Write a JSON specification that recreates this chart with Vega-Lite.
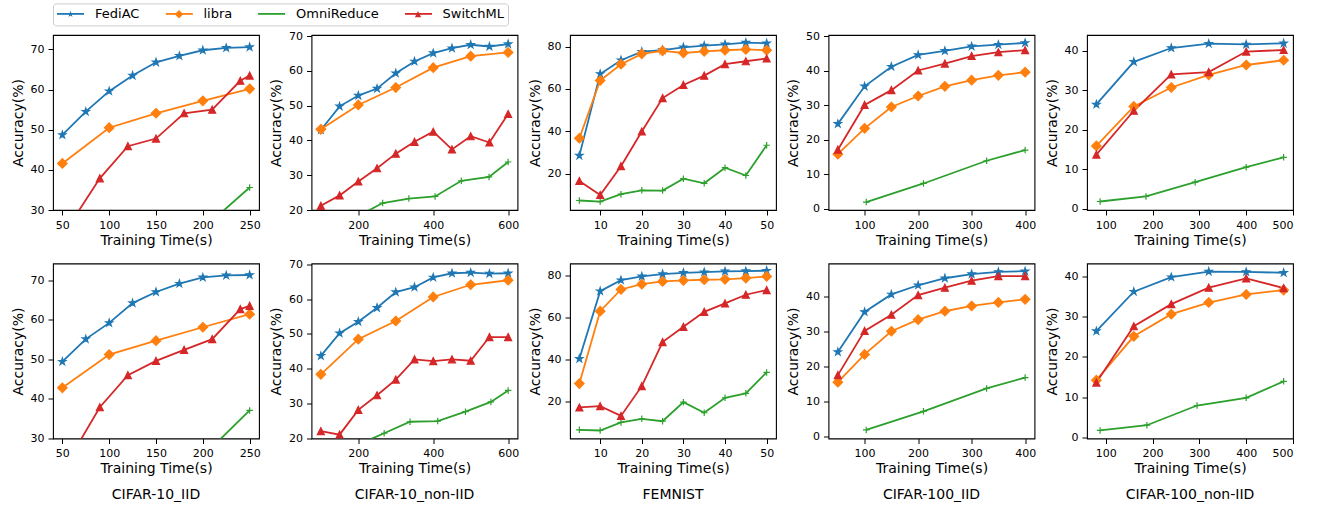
{
"$schema": "https://vega.github.io/schema/vega-lite/v6.json",
"background": "white",
"padding": {"left": 10, "top": 2, "right": 5, "bottom": 5},
"autosize": {"type": "pad"},
"data": {"values": [
{"p":"11","m":"FediAC","t":50,"y":48.7},{"p":"11","m":"FediAC","t":75,"y":54.5},{"p":"11","m":"FediAC","t":100,"y":59.6},{"p":"11","m":"FediAC","t":125,"y":63.5},{"p":"11","m":"FediAC","t":150,"y":66.8},{"p":"11","m":"FediAC","t":175,"y":68.4},{"p":"11","m":"FediAC","t":200,"y":69.8},{"p":"11","m":"FediAC","t":225,"y":70.4},{"p":"11","m":"FediAC","t":250,"y":70.6},
{"p":"11","m":"libra","t":50,"y":41.6},{"p":"11","m":"libra","t":100,"y":50.5},{"p":"11","m":"libra","t":150,"y":54.1},{"p":"11","m":"libra","t":200,"y":57.2},{"p":"11","m":"libra","t":250,"y":60.2},
{"p":"11","m":"OmniReduce","t":200,"y":25.3},{"p":"11","m":"OmniReduce","t":250,"y":35.6},
{"p":"11","m":"SwitchML","t":60,"y":27.1},{"p":"11","m":"SwitchML","t":90,"y":37.9},{"p":"11","m":"SwitchML","t":120,"y":45.9},{"p":"11","m":"SwitchML","t":150,"y":47.8},{"p":"11","m":"SwitchML","t":180,"y":54.1},{"p":"11","m":"SwitchML","t":210,"y":55.0},{"p":"11","m":"SwitchML","t":240,"y":62.2},{"p":"11","m":"SwitchML","t":250,"y":63.5},

{"p":"12","m":"FediAC","t":100,"y":43.0},{"p":"12","m":"FediAC","t":150,"y":49.8},{"p":"12","m":"FediAC","t":200,"y":52.9},{"p":"12","m":"FediAC","t":250,"y":54.9},{"p":"12","m":"FediAC","t":300,"y":59.3},{"p":"12","m":"FediAC","t":350,"y":62.7},{"p":"12","m":"FediAC","t":400,"y":65.1},{"p":"12","m":"FediAC","t":450,"y":66.5},{"p":"12","m":"FediAC","t":500,"y":67.5},{"p":"12","m":"FediAC","t":550,"y":67.0},{"p":"12","m":"FediAC","t":600,"y":67.7},
{"p":"12","m":"libra","t":100,"y":43.2},{"p":"12","m":"libra","t":200,"y":50.2},{"p":"12","m":"libra","t":300,"y":55.2},{"p":"12","m":"libra","t":400,"y":60.9},{"p":"12","m":"libra","t":500,"y":64.2},{"p":"12","m":"libra","t":600,"y":65.3},
{"p":"12","m":"OmniReduce","t":195,"y":18.0},{"p":"12","m":"OmniReduce","t":265,"y":22.0},{"p":"12","m":"OmniReduce","t":335,"y":23.3},{"p":"12","m":"OmniReduce","t":405,"y":23.9},{"p":"12","m":"OmniReduce","t":475,"y":28.4},{"p":"12","m":"OmniReduce","t":549,"y":29.5},{"p":"12","m":"OmniReduce","t":600,"y":33.8},
{"p":"12","m":"SwitchML","t":100,"y":21.2},{"p":"12","m":"SwitchML","t":150,"y":24.2},{"p":"12","m":"SwitchML","t":200,"y":28.2},{"p":"12","m":"SwitchML","t":250,"y":32.0},{"p":"12","m":"SwitchML","t":300,"y":36.2},{"p":"12","m":"SwitchML","t":350,"y":39.6},{"p":"12","m":"SwitchML","t":400,"y":42.5},{"p":"12","m":"SwitchML","t":450,"y":37.4},{"p":"12","m":"SwitchML","t":500,"y":41.2},{"p":"12","m":"SwitchML","t":550,"y":39.4},{"p":"12","m":"SwitchML","t":600,"y":47.6},

{"p":"13","m":"FediAC","t":5,"y":28.5},{"p":"13","m":"FediAC","t":10,"y":67.1},{"p":"13","m":"FediAC","t":15,"y":73.6},{"p":"13","m":"FediAC","t":20,"y":77.6},{"p":"13","m":"FediAC","t":25,"y":78.4},{"p":"13","m":"FediAC","t":30,"y":79.7},{"p":"13","m":"FediAC","t":35,"y":80.5},{"p":"13","m":"FediAC","t":40,"y":81.1},{"p":"13","m":"FediAC","t":45,"y":81.9},{"p":"13","m":"FediAC","t":50,"y":81.6},
{"p":"13","m":"libra","t":5,"y":36.7},{"p":"13","m":"libra","t":10,"y":64.0},{"p":"13","m":"libra","t":15,"y":71.7},{"p":"13","m":"libra","t":20,"y":76.6},{"p":"13","m":"libra","t":25,"y":78.0},{"p":"13","m":"libra","t":30,"y":77.0},{"p":"13","m":"libra","t":35,"y":77.8},{"p":"13","m":"libra","t":40,"y":78.3},{"p":"13","m":"libra","t":45,"y":78.7},{"p":"13","m":"libra","t":50,"y":78.3},
{"p":"13","m":"OmniReduce","t":5,"y":7.3},{"p":"13","m":"OmniReduce","t":10,"y":6.8},{"p":"13","m":"OmniReduce","t":15,"y":10.3},{"p":"13","m":"OmniReduce","t":20,"y":12.1},{"p":"13","m":"OmniReduce","t":25,"y":12.0},{"p":"13","m":"OmniReduce","t":30,"y":17.6},{"p":"13","m":"OmniReduce","t":35,"y":15.4},{"p":"13","m":"OmniReduce","t":40,"y":22.8},{"p":"13","m":"OmniReduce","t":45,"y":19.1},{"p":"13","m":"OmniReduce","t":50,"y":33.4},
{"p":"13","m":"SwitchML","t":5,"y":16.5},{"p":"13","m":"SwitchML","t":10,"y":9.9},{"p":"13","m":"SwitchML","t":15,"y":23.5},{"p":"13","m":"SwitchML","t":20,"y":39.9},{"p":"13","m":"SwitchML","t":25,"y":55.7},{"p":"13","m":"SwitchML","t":30,"y":61.9},{"p":"13","m":"SwitchML","t":35,"y":66.3},{"p":"13","m":"SwitchML","t":40,"y":71.7},{"p":"13","m":"SwitchML","t":45,"y":73.1},{"p":"13","m":"SwitchML","t":50,"y":74.4},

{"p":"14","m":"FediAC","t":50,"y":24.6},{"p":"14","m":"FediAC","t":100,"y":35.5},{"p":"14","m":"FediAC","t":150,"y":41.2},{"p":"14","m":"FediAC","t":200,"y":44.6},{"p":"14","m":"FediAC","t":250,"y":45.8},{"p":"14","m":"FediAC","t":300,"y":47.1},{"p":"14","m":"FediAC","t":350,"y":47.6},{"p":"14","m":"FediAC","t":400,"y":48.1},
{"p":"14","m":"libra","t":50,"y":15.8},{"p":"14","m":"libra","t":100,"y":23.3},{"p":"14","m":"libra","t":150,"y":29.5},{"p":"14","m":"libra","t":200,"y":32.7},{"p":"14","m":"libra","t":250,"y":35.5},{"p":"14","m":"libra","t":300,"y":37.3},{"p":"14","m":"libra","t":350,"y":38.7},{"p":"14","m":"libra","t":400,"y":39.6},
{"p":"14","m":"OmniReduce","t":103,"y":1.9},{"p":"14","m":"OmniReduce","t":210,"y":7.3},{"p":"14","m":"OmniReduce","t":328,"y":13.9},{"p":"14","m":"OmniReduce","t":400,"y":17.0},
{"p":"14","m":"SwitchML","t":50,"y":17.1},{"p":"14","m":"SwitchML","t":100,"y":30.1},{"p":"14","m":"SwitchML","t":150,"y":34.4},{"p":"14","m":"SwitchML","t":200,"y":40.1},{"p":"14","m":"SwitchML","t":250,"y":42.1},{"p":"14","m":"SwitchML","t":300,"y":44.3},{"p":"14","m":"SwitchML","t":350,"y":45.4},{"p":"14","m":"SwitchML","t":400,"y":46.0},

{"p":"15","m":"FediAC","t":80,"y":26.4},{"p":"15","m":"FediAC","t":160,"y":37.2},{"p":"15","m":"FediAC","t":240,"y":40.7},{"p":"15","m":"FediAC","t":320,"y":41.8},{"p":"15","m":"FediAC","t":400,"y":41.6},{"p":"15","m":"FediAC","t":480,"y":41.9},
{"p":"15","m":"libra","t":80,"y":15.9},{"p":"15","m":"libra","t":160,"y":25.9},{"p":"15","m":"libra","t":240,"y":30.7},{"p":"15","m":"libra","t":320,"y":33.9},{"p":"15","m":"libra","t":400,"y":36.4},{"p":"15","m":"libra","t":480,"y":37.6},
{"p":"15","m":"OmniReduce","t":88,"y":1.8},{"p":"15","m":"OmniReduce","t":186,"y":3.1},{"p":"15","m":"OmniReduce","t":291,"y":6.7},{"p":"15","m":"OmniReduce","t":400,"y":10.5},{"p":"15","m":"OmniReduce","t":480,"y":13.0},
{"p":"15","m":"SwitchML","t":80,"y":13.7},{"p":"15","m":"SwitchML","t":160,"y":24.8},{"p":"15","m":"SwitchML","t":240,"y":34.0},{"p":"15","m":"SwitchML","t":320,"y":34.6},{"p":"15","m":"SwitchML","t":400,"y":39.8},{"p":"15","m":"SwitchML","t":480,"y":40.2},

{"p":"21","m":"FediAC","t":50,"y":49.4},{"p":"21","m":"FediAC","t":75,"y":55.1},{"p":"21","m":"FediAC","t":100,"y":59.2},{"p":"21","m":"FediAC","t":125,"y":64.2},{"p":"21","m":"FediAC","t":150,"y":67.0},{"p":"21","m":"FediAC","t":175,"y":69.1},{"p":"21","m":"FediAC","t":200,"y":70.7},{"p":"21","m":"FediAC","t":225,"y":71.2},{"p":"21","m":"FediAC","t":250,"y":71.3},
{"p":"21","m":"libra","t":50,"y":42.8},{"p":"21","m":"libra","t":100,"y":51.2},{"p":"21","m":"libra","t":150,"y":54.7},{"p":"21","m":"libra","t":200,"y":58.1},{"p":"21","m":"libra","t":250,"y":61.4},
{"p":"21","m":"OmniReduce","t":200,"y":25.5},{"p":"21","m":"OmniReduce","t":250,"y":37.1},
{"p":"21","m":"SwitchML","t":60,"y":25.8},{"p":"21","m":"SwitchML","t":90,"y":37.9},{"p":"21","m":"SwitchML","t":120,"y":46.0},{"p":"21","m":"SwitchML","t":150,"y":49.6},{"p":"21","m":"SwitchML","t":180,"y":52.4},{"p":"21","m":"SwitchML","t":210,"y":55.1},{"p":"21","m":"SwitchML","t":240,"y":62.7},{"p":"21","m":"SwitchML","t":250,"y":63.5},

{"p":"22","m":"FediAC","t":100,"y":43.7},{"p":"22","m":"FediAC","t":150,"y":50.2},{"p":"22","m":"FediAC","t":200,"y":53.5},{"p":"22","m":"FediAC","t":250,"y":57.5},{"p":"22","m":"FediAC","t":300,"y":62.0},{"p":"22","m":"FediAC","t":350,"y":63.4},{"p":"22","m":"FediAC","t":400,"y":66.2},{"p":"22","m":"FediAC","t":450,"y":67.4},{"p":"22","m":"FediAC","t":500,"y":67.6},{"p":"22","m":"FediAC","t":550,"y":67.3},{"p":"22","m":"FediAC","t":600,"y":67.4},
{"p":"22","m":"libra","t":100,"y":38.4},{"p":"22","m":"libra","t":200,"y":48.5},{"p":"22","m":"libra","t":300,"y":53.7},{"p":"22","m":"libra","t":400,"y":60.6},{"p":"22","m":"libra","t":500,"y":64.1},{"p":"22","m":"libra","t":600,"y":65.4},
{"p":"22","m":"OmniReduce","t":200,"y":18.3},{"p":"22","m":"OmniReduce","t":269,"y":21.5},{"p":"22","m":"OmniReduce","t":338,"y":24.8},{"p":"22","m":"OmniReduce","t":412,"y":25.0},{"p":"22","m":"OmniReduce","t":486,"y":27.7},{"p":"22","m":"OmniReduce","t":554,"y":30.5},{"p":"22","m":"OmniReduce","t":600,"y":33.8},
{"p":"22","m":"SwitchML","t":100,"y":22.1},{"p":"22","m":"SwitchML","t":150,"y":21.1},{"p":"22","m":"SwitchML","t":200,"y":28.2},{"p":"22","m":"SwitchML","t":250,"y":32.4},{"p":"22","m":"SwitchML","t":300,"y":36.9},{"p":"22","m":"SwitchML","t":350,"y":42.7},{"p":"22","m":"SwitchML","t":400,"y":42.2},{"p":"22","m":"SwitchML","t":450,"y":42.7},{"p":"22","m":"SwitchML","t":500,"y":42.3},{"p":"22","m":"SwitchML","t":550,"y":49.1},{"p":"22","m":"SwitchML","t":600,"y":49.1},

{"p":"23","m":"FediAC","t":5,"y":40.4},{"p":"23","m":"FediAC","t":10,"y":72.4},{"p":"23","m":"FediAC","t":15,"y":77.6},{"p":"23","m":"FediAC","t":20,"y":79.4},{"p":"23","m":"FediAC","t":25,"y":80.5},{"p":"23","m":"FediAC","t":30,"y":81.1},{"p":"23","m":"FediAC","t":35,"y":81.4},{"p":"23","m":"FediAC","t":40,"y":81.8},{"p":"23","m":"FediAC","t":45,"y":81.9},{"p":"23","m":"FediAC","t":50,"y":82.1},
{"p":"23","m":"libra","t":5,"y":28.6},{"p":"23","m":"libra","t":10,"y":62.9},{"p":"23","m":"libra","t":15,"y":73.2},{"p":"23","m":"libra","t":20,"y":75.7},{"p":"23","m":"libra","t":25,"y":77.0},{"p":"23","m":"libra","t":30,"y":77.5},{"p":"23","m":"libra","t":35,"y":77.8},{"p":"23","m":"libra","t":40,"y":78.0},{"p":"23","m":"libra","t":45,"y":78.6},{"p":"23","m":"libra","t":50,"y":79.4},
{"p":"23","m":"OmniReduce","t":5,"y":6.7},{"p":"23","m":"OmniReduce","t":10,"y":6.4},{"p":"23","m":"OmniReduce","t":15,"y":10.2},{"p":"23","m":"OmniReduce","t":20,"y":11.9},{"p":"23","m":"OmniReduce","t":25,"y":10.8},{"p":"23","m":"OmniReduce","t":30,"y":19.8},{"p":"23","m":"OmniReduce","t":35,"y":14.8},{"p":"23","m":"OmniReduce","t":40,"y":21.9},{"p":"23","m":"OmniReduce","t":45,"y":24.0},{"p":"23","m":"OmniReduce","t":50,"y":33.9},
{"p":"23","m":"SwitchML","t":5,"y":17.3},{"p":"23","m":"SwitchML","t":10,"y":17.9},{"p":"23","m":"SwitchML","t":15,"y":13.3},{"p":"23","m":"SwitchML","t":20,"y":27.4},{"p":"23","m":"SwitchML","t":25,"y":48.3},{"p":"23","m":"SwitchML","t":30,"y":55.5},{"p":"23","m":"SwitchML","t":35,"y":62.6},{"p":"23","m":"SwitchML","t":40,"y":66.6},{"p":"23","m":"SwitchML","t":45,"y":70.7},{"p":"23","m":"SwitchML","t":50,"y":72.9},

{"p":"24","m":"FediAC","t":50,"y":24.2},{"p":"24","m":"FediAC","t":100,"y":35.6},{"p":"24","m":"FediAC","t":150,"y":40.6},{"p":"24","m":"FediAC","t":200,"y":43.2},{"p":"24","m":"FediAC","t":250,"y":45.2},{"p":"24","m":"FediAC","t":300,"y":46.4},{"p":"24","m":"FediAC","t":350,"y":47.0},{"p":"24","m":"FediAC","t":400,"y":47.2},
{"p":"24","m":"libra","t":50,"y":15.6},{"p":"24","m":"libra","t":100,"y":23.5},{"p":"24","m":"libra","t":150,"y":30.1},{"p":"24","m":"libra","t":200,"y":33.4},{"p":"24","m":"libra","t":250,"y":35.8},{"p":"24","m":"libra","t":300,"y":37.3},{"p":"24","m":"libra","t":350,"y":38.3},{"p":"24","m":"libra","t":400,"y":39.2},
{"p":"24","m":"OmniReduce","t":103,"y":2.0},{"p":"24","m":"OmniReduce","t":210,"y":7.3},{"p":"24","m":"OmniReduce","t":328,"y":13.8},{"p":"24","m":"OmniReduce","t":400,"y":16.9},
{"p":"24","m":"SwitchML","t":50,"y":17.6},{"p":"24","m":"SwitchML","t":100,"y":30.2},{"p":"24","m":"SwitchML","t":150,"y":34.8},{"p":"24","m":"SwitchML","t":200,"y":40.4},{"p":"24","m":"SwitchML","t":250,"y":42.5},{"p":"24","m":"SwitchML","t":300,"y":44.5},{"p":"24","m":"SwitchML","t":350,"y":45.8},{"p":"24","m":"SwitchML","t":400,"y":45.8},

{"p":"25","m":"FediAC","t":80,"y":26.4},{"p":"25","m":"FediAC","t":160,"y":36.2},{"p":"25","m":"FediAC","t":240,"y":39.8},{"p":"25","m":"FediAC","t":320,"y":41.2},{"p":"25","m":"FediAC","t":400,"y":41.1},{"p":"25","m":"FediAC","t":480,"y":40.9},
{"p":"25","m":"libra","t":80,"y":14.2},{"p":"25","m":"libra","t":160,"y":25.1},{"p":"25","m":"libra","t":240,"y":30.6},{"p":"25","m":"libra","t":320,"y":33.5},{"p":"25","m":"libra","t":400,"y":35.5},{"p":"25","m":"libra","t":480,"y":36.6},
{"p":"25","m":"OmniReduce","t":88,"y":1.7},{"p":"25","m":"OmniReduce","t":188,"y":3.0},{"p":"25","m":"OmniReduce","t":295,"y":7.9},{"p":"25","m":"OmniReduce","t":400,"y":9.8},{"p":"25","m":"OmniReduce","t":480,"y":13.9},
{"p":"25","m":"SwitchML","t":80,"y":13.6},{"p":"25","m":"SwitchML","t":160,"y":27.6},{"p":"25","m":"SwitchML","t":240,"y":33.1},{"p":"25","m":"SwitchML","t":320,"y":37.2},{"p":"25","m":"SwitchML","t":400,"y":39.5},{"p":"25","m":"SwitchML","t":480,"y":37.1}
]},
"bounds": "flush",
"columns": 5,
"spacing": {"row": 53.5, "column": 52.5},
"resolve": {"legend": {"stroke": "independent"}},
"concat": [
 {"width": 206, "height": 175, "transform": [{"filter": "datum.p === '11'"}],
  "encoding": {
   "x": {"field": "t", "type": "quantitative", "scale": {"domain": [40, 260], "nice": false, "zero": false}, "axis": {"values": [50,100,150,200,250], "title": "Training Time(s)"}},
   "y": {"field": "y", "type": "quantitative", "scale": {"domain": [30, 73.6], "nice": false, "zero": false}, "axis": {"values": [30,40,50,60,70], "title": "Accuracy(%)"}},
   "stroke": {"field": "m", "type": "nominal", "sort": ["FediAC","libra","OmniReduce","SwitchML"],
     "legend": {"orient": "none", "legendX": 11, "legendY": -27.6, "direction": "horizontal", "title": null, "values": ["FediAC"],
       "symbolType": "M-2.4545,0L2.4545,0", "symbolSize": 121, "symbolStrokeWidth": 1.8, "symbolOffset": 0, "labelExpr": "''",
       "labelFont": "DejaVu Sans", "labelFontSize": 13, "padding": 0}}
  },
  "layer": [
   {"mark": {"type": "line", "strokeWidth": 1.8, "clip": true}},
   {"mark": {"type": "point", "filled": true, "size": 100, "strokeWidth": 1.2, "opacity": 1, "clip": true},
    "encoding": {"color": {"field": "m", "type": "nominal", "scale": {"domain": ["FediAC","libra","OmniReduce","SwitchML"]},
                   "legend": {"orient": "none", "legendX": 0, "legendY": -31.6, "direction": "horizontal", "title": null,
                     "symbolSize": 81, "symbolStrokeWidth": 1.2, "symbolOffset": 7, "labelOffset": 18, "columnPadding": 25.5,
                     "labelFont": "DejaVu Sans", "labelFontSize": 13, "labelColor": "#000", "padding": 4,
                     "strokeColor": "#cccccc", "cornerRadius": 3}},
                 "shape": {"field": "m", "type": "nominal", "scale": {"domain": ["FediAC","libra","OmniReduce","SwitchML"]}, "legend": null}}}
  ]},
 {"width": 206, "height": 175, "transform": [{"filter": "datum.p === '12'"}],
  "encoding": {
   "x": {"field": "t", "type": "quantitative", "scale": {"domain": [75, 625], "nice": false, "zero": false}, "axis": {"values": [200,400,600], "title": "Training Time(s)"}},
   "y": {"field": "y", "type": "quantitative", "scale": {"domain": [20, 70.3], "nice": false, "zero": false}, "axis": {"values": [20,30,40,50,60,70], "title": "Accuracy(%)"}},
   "stroke": {"field": "m", "type": "nominal", "sort": ["FediAC","libra","OmniReduce","SwitchML"],
     "legend": {"orient": "none", "legendX": -138.7, "legendY": -27.6, "direction": "horizontal", "title": null, "values": ["libra"],
       "symbolType": "M-2.4545,0L2.4545,0", "symbolSize": 121, "symbolStrokeWidth": 1.8, "symbolOffset": 0, "labelExpr": "''",
       "labelFont": "DejaVu Sans", "labelFontSize": 13, "padding": 0}}
  },
  "layer": [
   {"mark": {"type": "line", "strokeWidth": 1.8, "clip": true}},
   {"mark": {"type": "point", "filled": true, "size": 100, "strokeWidth": 1.2, "opacity": 1, "clip": true},
    "encoding": {"color": {"field": "m", "type": "nominal", "scale": {"domain": ["FediAC","libra","OmniReduce","SwitchML"]}, "legend": null},
                 "shape": {"field": "m", "type": "nominal", "scale": {"domain": ["FediAC","libra","OmniReduce","SwitchML"]}, "legend": null}}}
  ]},
 {"width": 206, "height": 175, "transform": [{"filter": "datum.p === '13'"}],
  "encoding": {
   "x": {"field": "t", "type": "quantitative", "scale": {"domain": [2.75, 52.25], "nice": false, "zero": false}, "axis": {"values": [10,20,30,40,50], "title": "Training Time(s)"}},
   "y": {"field": "y", "type": "quantitative", "scale": {"domain": [2.8, 85.5], "nice": false, "zero": false}, "axis": {"values": [20,40,60,80], "title": "Accuracy(%)"}},
   "stroke": {"field": "m", "type": "nominal", "sort": ["FediAC","libra","OmniReduce","SwitchML"],
     "legend": {"orient": "none", "legendX": -304.9, "legendY": -27.6, "direction": "horizontal", "title": null, "values": ["OmniReduce"],
       "symbolType": "M-2.4545,0L2.4545,0", "symbolSize": 121, "symbolStrokeWidth": 1.8, "symbolOffset": 0, "labelExpr": "''",
       "labelFont": "DejaVu Sans", "labelFontSize": 13, "padding": 0}}
  },
  "layer": [
   {"mark": {"type": "line", "strokeWidth": 1.8, "clip": true}},
   {"mark": {"type": "point", "filled": true, "size": 100, "strokeWidth": 1.2, "opacity": 1, "clip": true},
    "encoding": {"color": {"field": "m", "type": "nominal", "scale": {"domain": ["FediAC","libra","OmniReduce","SwitchML"]}, "legend": null},
                 "shape": {"field": "m", "type": "nominal", "scale": {"domain": ["FediAC","libra","OmniReduce","SwitchML"]}, "legend": null}}}
  ]},
 {"width": 206, "height": 175, "transform": [{"filter": "datum.p === '14'"}],
  "encoding": {
   "x": {"field": "t", "type": "quantitative", "scale": {"domain": [32.5, 417.5], "nice": false, "zero": false}, "axis": {"values": [100,200,300,400], "title": "Training Time(s)"}},
   "y": {"field": "y", "type": "quantitative", "scale": {"domain": [-0.4, 50.4], "nice": false, "zero": false}, "axis": {"values": [0,10,20,30,40,50], "title": "Accuracy(%)"}},
   "stroke": {"field": "m", "type": "nominal", "sort": ["FediAC","libra","OmniReduce","SwitchML"],
     "legend": {"orient": "none", "legendX": -416.5, "legendY": -27.6, "direction": "horizontal", "title": null, "values": ["SwitchML"],
       "symbolType": "M-2.4545,0L2.4545,0", "symbolSize": 121, "symbolStrokeWidth": 1.8, "symbolOffset": 0, "labelExpr": "''",
       "labelFont": "DejaVu Sans", "labelFontSize": 13, "padding": 0}}
  },
  "layer": [
   {"mark": {"type": "line", "strokeWidth": 1.8, "clip": true}},
   {"mark": {"type": "point", "filled": true, "size": 100, "strokeWidth": 1.2, "opacity": 1, "clip": true},
    "encoding": {"color": {"field": "m", "type": "nominal", "scale": {"domain": ["FediAC","libra","OmniReduce","SwitchML"]}, "legend": null},
                 "shape": {"field": "m", "type": "nominal", "scale": {"domain": ["FediAC","libra","OmniReduce","SwitchML"]}, "legend": null}}}
  ]},
 {"width": 206, "height": 175, "transform": [{"filter": "datum.p === '15'"}],
  "encoding": {
   "x": {"field": "t", "type": "quantitative", "scale": {"domain": [60, 500], "nice": false, "zero": false}, "axis": {"values": [100,200,300,400,500], "title": "Training Time(s)"}},
   "y": {"field": "y", "type": "quantitative", "scale": {"domain": [-0.35, 44.0], "nice": false, "zero": false}, "axis": {"values": [0,10,20,30,40], "title": "Accuracy(%)"}},
   "stroke": {"field": "m", "type": "nominal", "sort": ["FediAC","libra","OmniReduce","SwitchML"], "legend": null}
  },
  "layer": [
   {"mark": {"type": "line", "strokeWidth": 1.8, "clip": true}},
   {"mark": {"type": "point", "filled": true, "size": 100, "strokeWidth": 1.2, "opacity": 1, "clip": true},
    "encoding": {"color": {"field": "m", "type": "nominal", "scale": {"domain": ["FediAC","libra","OmniReduce","SwitchML"]}, "legend": null},
                 "shape": {"field": "m", "type": "nominal", "scale": {"domain": ["FediAC","libra","OmniReduce","SwitchML"]}, "legend": null}}}
  ]},
 {"width": 206, "height": 175, "title": {"text": "CIFAR-10_IID", "orient": "bottom"}, "transform": [{"filter": "datum.p === '21'"}],
  "encoding": {
   "x": {"field": "t", "type": "quantitative", "scale": {"domain": [40, 260], "nice": false, "zero": false}, "axis": {"values": [50,100,150,200,250], "title": "Training Time(s)"}},
   "y": {"field": "y", "type": "quantitative", "scale": {"domain": [30, 74.2], "nice": false, "zero": false}, "axis": {"values": [30,40,50,60,70], "title": "Accuracy(%)"}},
   "stroke": {"field": "m", "type": "nominal", "sort": ["FediAC","libra","OmniReduce","SwitchML"], "legend": null}
  },
  "layer": [
   {"mark": {"type": "line", "strokeWidth": 1.8, "clip": true}},
   {"mark": {"type": "point", "filled": true, "size": 100, "strokeWidth": 1.2, "opacity": 1, "clip": true},
    "encoding": {"color": {"field": "m", "type": "nominal", "scale": {"domain": ["FediAC","libra","OmniReduce","SwitchML"]}, "legend": null},
                 "shape": {"field": "m", "type": "nominal", "scale": {"domain": ["FediAC","libra","OmniReduce","SwitchML"]}, "legend": null}}}
  ]},
 {"width": 206, "height": 175, "title": {"text": "CIFAR-10_non-IID", "orient": "bottom"}, "transform": [{"filter": "datum.p === '22'"}],
  "encoding": {
   "x": {"field": "t", "type": "quantitative", "scale": {"domain": [75, 625], "nice": false, "zero": false}, "axis": {"values": [200,400,600], "title": "Training Time(s)"}},
   "y": {"field": "y", "type": "quantitative", "scale": {"domain": [20, 70.2], "nice": false, "zero": false}, "axis": {"values": [20,30,40,50,60,70], "title": "Accuracy(%)"}},
   "stroke": {"field": "m", "type": "nominal", "sort": ["FediAC","libra","OmniReduce","SwitchML"], "legend": null}
  },
  "layer": [
   {"mark": {"type": "line", "strokeWidth": 1.8, "clip": true}},
   {"mark": {"type": "point", "filled": true, "size": 100, "strokeWidth": 1.2, "opacity": 1, "clip": true},
    "encoding": {"color": {"field": "m", "type": "nominal", "scale": {"domain": ["FediAC","libra","OmniReduce","SwitchML"]}, "legend": null},
                 "shape": {"field": "m", "type": "nominal", "scale": {"domain": ["FediAC","libra","OmniReduce","SwitchML"]}, "legend": null}}}
  ]},
 {"width": 206, "height": 175, "title": {"text": "FEMNIST", "orient": "bottom"}, "transform": [{"filter": "datum.p === '23'"}],
  "encoding": {
   "x": {"field": "t", "type": "quantitative", "scale": {"domain": [2.75, 52.25], "nice": false, "zero": false}, "axis": {"values": [10,20,30,40,50], "title": "Training Time(s)"}},
   "y": {"field": "y", "type": "quantitative", "scale": {"domain": [2.6, 85.5], "nice": false, "zero": false}, "axis": {"values": [20,40,60,80], "title": "Accuracy(%)"}},
   "stroke": {"field": "m", "type": "nominal", "sort": ["FediAC","libra","OmniReduce","SwitchML"], "legend": null}
  },
  "layer": [
   {"mark": {"type": "line", "strokeWidth": 1.8, "clip": true}},
   {"mark": {"type": "point", "filled": true, "size": 100, "strokeWidth": 1.2, "opacity": 1, "clip": true},
    "encoding": {"color": {"field": "m", "type": "nominal", "scale": {"domain": ["FediAC","libra","OmniReduce","SwitchML"]}, "legend": null},
                 "shape": {"field": "m", "type": "nominal", "scale": {"domain": ["FediAC","libra","OmniReduce","SwitchML"]}, "legend": null}}}
  ]},
 {"width": 206, "height": 175, "title": {"text": "CIFAR-100_IID", "orient": "bottom"}, "transform": [{"filter": "datum.p === '24'"}],
  "encoding": {
   "x": {"field": "t", "type": "quantitative", "scale": {"domain": [32.5, 417.5], "nice": false, "zero": false}, "axis": {"values": [100,200,300,400], "title": "Training Time(s)"}},
   "y": {"field": "y", "type": "quantitative", "scale": {"domain": [-0.45, 49.4], "nice": false, "zero": false}, "axis": {"values": [0,10,20,30,40], "title": "Accuracy(%)"}},
   "stroke": {"field": "m", "type": "nominal", "sort": ["FediAC","libra","OmniReduce","SwitchML"], "legend": null}
  },
  "layer": [
   {"mark": {"type": "line", "strokeWidth": 1.8, "clip": true}},
   {"mark": {"type": "point", "filled": true, "size": 100, "strokeWidth": 1.2, "opacity": 1, "clip": true},
    "encoding": {"color": {"field": "m", "type": "nominal", "scale": {"domain": ["FediAC","libra","OmniReduce","SwitchML"]}, "legend": null},
                 "shape": {"field": "m", "type": "nominal", "scale": {"domain": ["FediAC","libra","OmniReduce","SwitchML"]}, "legend": null}}}
  ]},
 {"width": 206, "height": 175, "title": {"text": "CIFAR-100_non-IID", "orient": "bottom"}, "transform": [{"filter": "datum.p === '25'"}],
  "encoding": {
   "x": {"field": "t", "type": "quantitative", "scale": {"domain": [60, 500], "nice": false, "zero": false}, "axis": {"values": [100,200,300,400,500], "title": "Training Time(s)"}},
   "y": {"field": "y", "type": "quantitative", "scale": {"domain": [-0.3, 43.2], "nice": false, "zero": false}, "axis": {"values": [0,10,20,30,40], "title": "Accuracy(%)"}},
   "stroke": {"field": "m", "type": "nominal", "sort": ["FediAC","libra","OmniReduce","SwitchML"], "legend": null}
  },
  "layer": [
   {"mark": {"type": "line", "strokeWidth": 1.8, "clip": true}},
   {"mark": {"type": "point", "filled": true, "size": 100, "strokeWidth": 1.2, "opacity": 1, "clip": true},
    "encoding": {"color": {"field": "m", "type": "nominal", "scale": {"domain": ["FediAC","libra","OmniReduce","SwitchML"]}, "legend": null},
                 "shape": {"field": "m", "type": "nominal", "scale": {"domain": ["FediAC","libra","OmniReduce","SwitchML"]}, "legend": null}}}
  ]}
],
"config": {
 "range": {
  "category": ["#1f77b4", "#ff7f0e", "#2ca02c", "#d62728"],
  "symbol": [
   "M0,-0.75L0.169,-0.232L0.713,-0.232L0.273,0.089L0.441,0.607L0,0.287L-0.441,0.607L-0.273,0.089L-0.713,-0.232L-0.169,-0.232Z",
   "M0,-0.95L0.95,0L0,0.95L-0.95,0Z",
   "M-0.65,0L0.65,0M0,-0.65L0,0.65",
   "M0,-0.7L0.7,0.7L-0.7,0.7Z"
  ]
 },
 "view": {"stroke": "#000000", "strokeWidth": 1.1},
 "axis": {"grid": false, "domain": false, "tickColor": "#000000", "tickSize": 5, "tickWidth": 1,
  "labelFont": "DejaVu Sans", "labelFontSize": 11, "labelColor": "#000000", "labelPadding": 4,
  "titleFont": "DejaVu Sans", "titleFontSize": 14, "titleFontWeight": "normal", "titleColor": "#000000", "titlePadding": 3},
 "axisY": {"titlePadding": 5},
 "title": {"font": "DejaVu Sans", "fontSize": 14, "fontWeight": "normal", "color": "#000000", "offset": 12}
}
}
